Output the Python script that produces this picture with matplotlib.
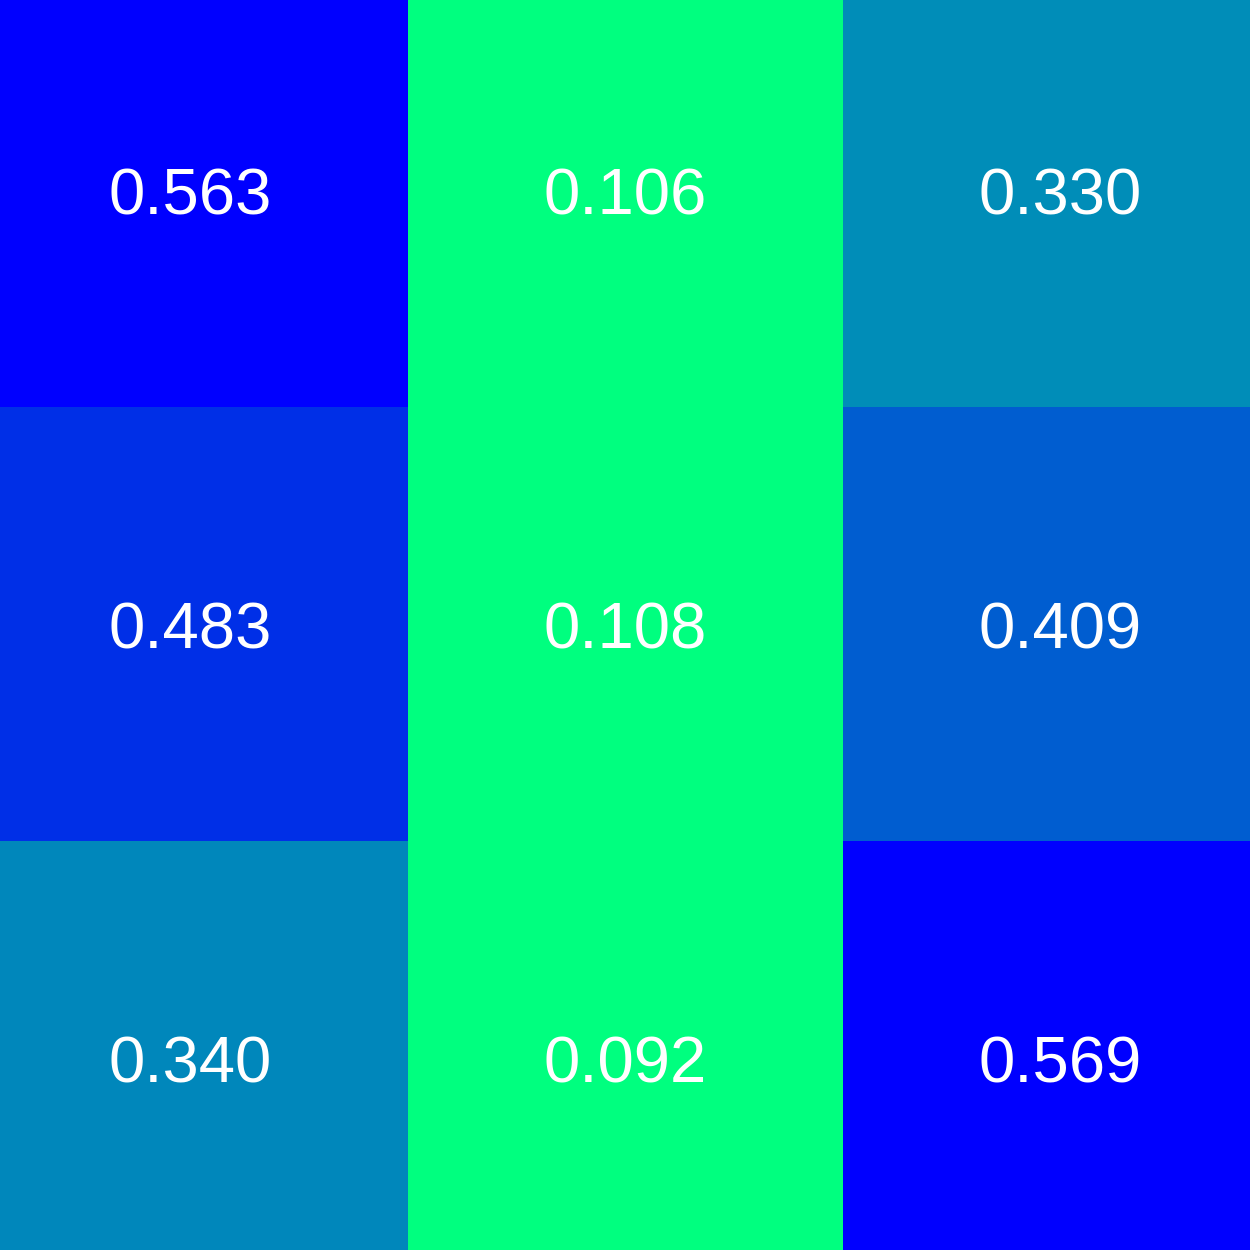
import matplotlib
matplotlib.use('Agg')
import matplotlib.pyplot as plt
import numpy as np

# cell values, row by row (top to bottom)
row_top = [0.563, 0.106, 0.330]
row_mid = [0.483, 0.108, 0.409]
row_bot = [0.340, 0.092, 0.569]

values = np.array([row_top, row_mid, row_bot])

fig = plt.figure(figsize=(12.5, 12.5), dpi=100)
# outer cells are partly cut off by the figure edge
ax = fig.add_axes([-0.0216, -0.0208, 1.044, 1.0416])

ax.imshow(values, cmap='winter_r', vmin=0.145, vmax=0.56, aspect='auto',
          interpolation='nearest')

for i in range(values.shape[0]):
    for j in range(values.shape[1]):
        ax.text(j, i, '%.3f' % values[i, j], ha='center', va='center_baseline',
                color='white', fontsize=47, family='Liberation Sans')

ax.axis('off')
fig.savefig('out.png', dpi=100)
